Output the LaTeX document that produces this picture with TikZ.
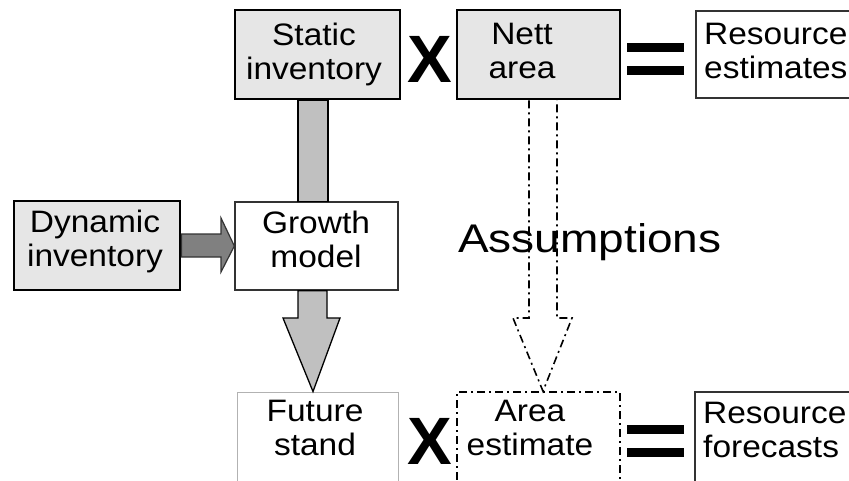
\documentclass[tikz,border=0pt]{standalone}
\usepackage{fontspec}
\setmainfont{Liberation Sans}
\newfontfamily\boxfont[FakeStretch=1.08]{Liberation Sans}
\newfontfamily\bigfont[FakeStretch=1.15]{Liberation Sans}
\definecolor{boxgray}{HTML}{E6E6E6}
\definecolor{shaftgray}{HTML}{C0C0C0}
\definecolor{darkarrow}{HTML}{808080}
\tikzset{
  thickbox/.style={draw=black, line width=2.8pt, fill=boxgray, inner sep=0pt},
  thinbox/.style={draw=black!80, line width=1.3pt, fill=white, inner sep=0pt},
  palebox/.style={draw=black!30, line width=0.9pt, fill=white, inner sep=0pt},
  dashbox/.style={draw=black, line width=1.6pt, dash pattern=on 8pt off 4pt on 2pt off 4pt, inner sep=0pt},
  boxtext/.style={inner sep=0pt, align=center, font=\boxfont\fontsize{31}{34}\selectfont},
  lefttext/.style={inner sep=0pt, align=left, font=\boxfont\fontsize{31}{34}\selectfont},
  optext/.style={inner sep=0pt, font=\bfseries\fontsize{67}{67}\selectfont},
  eqbar/.style={fill=black},
  grayarrow/.style={draw=black, line width=1.3pt, fill=shaftgray},
  darkarr/.style={draw=black!80, line width=1.2pt, fill=darkarrow},
  dasharr/.style={draw=black, line width=1.6pt, dash pattern=on 8pt off 4pt on 2pt off 4pt}
}
\begin{document}
\begin{tikzpicture}[x=1pt,y=-1pt]
\useasboundingbox (0,0) rectangle (849,480);
% boxes
\node[thickbox, minimum width=165pt, minimum height=89pt] (static) at (317.5,54.5) {};
\node[thickbox, minimum width=163pt, minimum height=89pt] (nett) at (538.5,54.5) {};
\node[thinbox, minimum width=164pt, minimum height=87pt] (resest) at (778,54.5) {};
\node[thickbox, minimum width=166pt, minimum height=89pt] (dyn) at (97,245.5) {};
\node[thinbox, minimum width=163pt, minimum height=88pt] (growth) at (316.5,246) {};
\node[palebox, minimum width=161pt, minimum height=98pt] (future) at (317.5,441) {};
\node[dashbox, minimum width=163pt, minimum height=98pt] (area) at (538.5,441) {};
\node[thinbox, minimum width=164pt, minimum height=98pt] (resfor) at (777,441) {};
% texts
\node[boxtext, anchor=north] (tstatic) at (314,23) {Static\\inventory};
\node[boxtext, anchor=north] (tnett) at (522,23) {Nett\\area};
\node[lefttext, anchor=north west] (tresest) at (704,23) {Resource\\estimates};
\node[boxtext, anchor=north] (tdyn) at (95,210) {Dynamic\\inventory};
\node[boxtext, anchor=north] (tgrowth) at (316,211) {Growth\\model};
\node[boxtext, anchor=north] (tfuture) at (315,400) {Future\\stand};
\node[boxtext, anchor=north] (tarea) at (530,400) {Area\\estimate};
\node[lefttext, anchor=north west] (tresfor) at (703,402) {Resource\\forecasts};
\node[inner sep=0pt, anchor=north west, font=\bigfont\fontsize{40}{40}\selectfont] (assume) at (458,223) {Assumptions};
% operators
\node[optext] (x1) at (430,59) {X};
\node[optext] (x2) at (430,441) {X};
\fill[eqbar] (627,43) rectangle (684,52);
\fill[eqbar] (627,66) rectangle (684,75);
\fill[eqbar] (627,425) rectangle (684,434);
\fill[eqbar] (627,448) rectangle (684,457);
% arrows
\draw[grayarrow] (298,0 |- static.south) rectangle (328,0 |- growth.north);
\draw[grayarrow] (298,0 |- growth.south) -- (298,318) -- (283,318) -- (313,0 |- future.north) -- (340,318) -- (327,318) -- (327,0 |- growth.south) -- cycle;
\draw[darkarr] (dyn.east |- 0,234) -- (221,234) -- (221,218) -- (growth.west) -- (221,272) -- (221,257) -- (dyn.east |- 0,257) -- cycle;
\draw[dasharr] (529,0 |- nett.south) -- (529,318) -- (513,318) -- (543,0 |- area.north) -- (572,318) -- (557,318) -- (557,0 |- nett.south);
\end{tikzpicture}
\end{document}
